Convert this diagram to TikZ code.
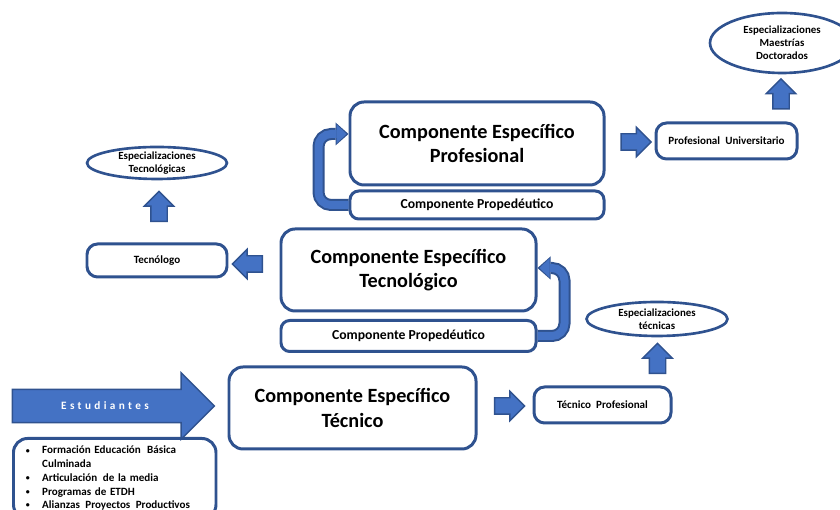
\documentclass[tikz,border=0pt]{standalone}
\usepackage{fontspec}
\setmainfont{Carlito}
\usetikzlibrary{shapes.geometric, shapes.arrows, arrows.meta}
\definecolor{boxblue}{HTML}{2F528F}
\definecolor{fillblue}{HTML}{4472C4}
\newcommand{\smallbullet}{\raisebox{0.5pt}{\fontsize{4.5}{5}\selectfont\textbullet}}
\tikzset{
    bigbox/.style={draw=boxblue, line width=1.7pt, rounded corners=8pt, align=center,
    	font=\bfseries\fontsize{11.5}{14}\selectfont},
    propbox/.style={draw=boxblue, line width=1.7pt, rounded corners=5pt,
    	font=\bfseries\fontsize{7.8}{9}\selectfont},
    smallbox/.style={draw=boxblue, line width=1.7pt, rounded corners=6pt,
    	font=\bfseries\fontsize{6.3}{7.5}\selectfont},
    oval/.style={ellipse, draw=boxblue, line width=1.5pt, align=center, inner sep=0pt,
    	font=\bfseries\fontsize{6.2}{7.4}\selectfont},
    listbox/.style={draw=boxblue, line width=1.7pt, rounded corners=8pt, align=left,
    	text width=3.55cm, inner xsep=0.25cm, minimum height=1.6cm,
    	font=\bfseries\fontsize{6.3}{7.8}\selectfont},
    blockarrow/.style={single arrow, draw=boxblue, fill=fillblue, line width=0.8pt,
    	minimum height=0.6cm, minimum width=0.56cm, inner sep=0.15cm,
    	single arrow head extend=0.13cm, single arrow head indent=0pt},
    bigarrow/.style={single arrow, draw=boxblue, fill=fillblue, line width=0.8pt,
    	minimum height=4.04cm, minimum width=1.3cm, text=white,
    	text height=4.1pt, text depth=0pt, inner ysep=7pt,
    	single arrow head extend=0.33cm, single arrow head indent=0pt,
    	font=\bfseries\fontsize{6.4}{7.6}\selectfont},
    bentarrow/.style={rounded corners=0.25cm, line width=0.24cm, draw=boxblue,
    	-{Triangle[length=0.26cm, width=0.46cm, line width=0pt]},
    	postaction={draw=fillblue, line width=0.16cm, shorten >=0.04cm,
    		-{Triangle[length=0.2cm, width=0.38cm, line width=0pt]}}}
}

\begin{document}
\begin{tikzpicture}
  \useasboundingbox (0cm, 0cm) rectangle (16.8cm, 10.2cm);

  \node (prof) [bigbox, minimum width=5.08cm, minimum height=1.66cm] at (9.54cm, 7.33cm) {Componente Específico\\Profesional};
  \node (prop1) [propbox, minimum width=5.08cm, minimum height=0.56cm] at (9.54cm, 6.10cm) {Componente Propedéutico};
  \node (tecnol) [bigbox, minimum width=5.10cm, minimum height=1.64cm] at (8.17cm, 4.80cm) {Componente Específico\\Tecnológico};
  \node (prop2) [propbox, minimum width=5.10cm, minimum height=0.62cm] at (8.17cm, 3.48cm) {Componente Propedéutico};
  \node (tecnico) [bigbox, minimum width=4.94cm, minimum height=1.64cm] at (7.05cm, 2.04cm) {Componente Específico\\Técnico};

  \node (tecnologo) [smallbox, minimum width=2.8cm, minimum height=0.66cm] at (3.14cm, 4.99cm) {Tecnólogo};
  \node (esptecnol) [oval, minimum width=2.8cm, minimum height=0.64cm] at (3.14cm, 6.94cm) {Especializaciones\\Tecnológicas};
  \node (profuniv) [smallbox, minimum width=2.82cm, minimum height=0.72cm] at (14.53cm, 7.38cm) {Profesional\hspace{1.5pt} Universitario};
  \node (posgrado) [oval, minimum width=2.88cm, minimum height=1.2cm] at (15.64cm, 9.34cm) {Especializaciones\\Maestrías\\Doctorados};
  \node (tecprof) [smallbox, minimum width=2.74cm, minimum height=0.72cm] at (12.05cm, 2.10cm) {Técnico\hspace{1.5pt} Profesional};
  \node (esptecnica) [oval, minimum width=2.82cm, minimum height=0.68cm] at (13.14cm, 3.82cm) {Especializaciones\\técnicas};

  \node (estud) [bigarrow] at (2.10cm, 2.08cm) {\addfontfeature{LetterSpace=30}Estudiantes};
  \node (requisitos) [listbox, anchor=north west] at (0.24cm, 1.46cm) {%
    \begin{tabular}{@{}l@{\hspace{7pt}}l@{}}
      \smallbullet & Formación Educación\hspace{1.5pt} Básica\\
                   & Culminada\\
      \smallbullet & Articulación\hspace{1pt} de la media\\
      \smallbullet & Programas de ETDH\\
      \smallbullet & Alianzas\hspace{1pt} Proyectos\hspace{1pt} Productivos
    \end{tabular}};

  % block arrows between the boxes
  \node (a1) [blockarrow] at (10.11cm, 2.08cm) {};
  \node (a2) [blockarrow, shape border rotate=90] at (13.15cm, 2.95cm) {};
  \node (a3) [blockarrow, shape border rotate=180] at (5.03cm, 4.92cm) {};
  \node (a4) [blockarrow, shape border rotate=90] at (3.18cm, 5.99cm) {};
  \node (a5) [blockarrow] at (12.64cm, 7.36cm) {};
  \node (a6) [blockarrow, shape border rotate=90] at (15.62cm, 8.24cm) {};

  \draw [bentarrow] (prop1.west) -- ++(-0.6cm, 0cm) |- ([yshift=0.19cm]prof.west);
  \draw [bentarrow] (prop2.east) -- ++(0.54cm, 0cm) |- ([yshift=0.04cm]tecnol.east);
\end{tikzpicture}
\end{document}
